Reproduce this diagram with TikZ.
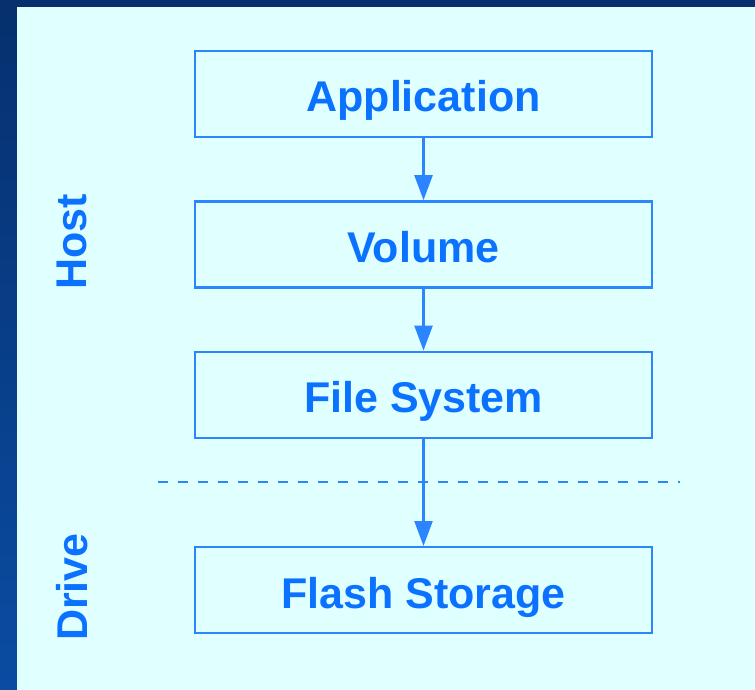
\documentclass[tikz,border=0pt]{standalone}
\usepackage{fontspec}
\setmainfont{Liberation Sans}
\usetikzlibrary{positioning,arrows.meta}
\definecolor{deepblue}{HTML}{06306E}
\definecolor{midblue}{HTML}{0A4CA2}
\definecolor{panel}{HTML}{E0FFFF}
\definecolor{ink}{HTML}{0A72FF}
\definecolor{edge}{HTML}{2A85FF}
\tikzstyle{every node}=[text=ink,font=\fontsize{43}{50}\selectfont\bfseries]
\tikzstyle{layer}=[draw=edge,line width=2.4pt,minimum width=457pt,minimum height=86pt,
    inner sep=0pt,text height=36pt,text depth=0pt]
\tikzstyle{side}=[rotate=90]
\tikzstyle{flow}=[draw=edge,line width=2.4pt,-{Triangle[width=18pt,length=25pt]}]

\begin{document}
\begin{tikzpicture}[x=1pt,y=-1pt,node distance=62pt]
    % frame and panel
    \shade[top color=deepblue,bottom color=midblue] (0,0) rectangle (755,690);
    \fill[panel] (17,7) rectangle (755,690);
    \useasboundingbox (0,0) rectangle (755,690);

    \node [layer] (app) at (423.5,94) {Application};
    \node [layer,below=of app] (vol) {Volume};
    \node [layer,below=of vol] (fs) {File System};
    \node [layer,below=107pt of fs] (flash) {Flash Storage};

    \node [side] (host) at (72,242) {Host};
    \node [side] (drive) at (72,587) {Drive};

    % host / drive split
    \coordinate (cutL) at (158,482);
    \coordinate (cutR) at (680,482);
    \draw[edge,line width=2.2pt,dash pattern=on 10pt off 10pt] (cutL) -- (cutR);

    \draw[flow] (app) -- (vol);
    \draw[flow] (vol) -- (fs);
    \draw[flow] (fs) -- (flash);
\end{tikzpicture}
\end{document}
